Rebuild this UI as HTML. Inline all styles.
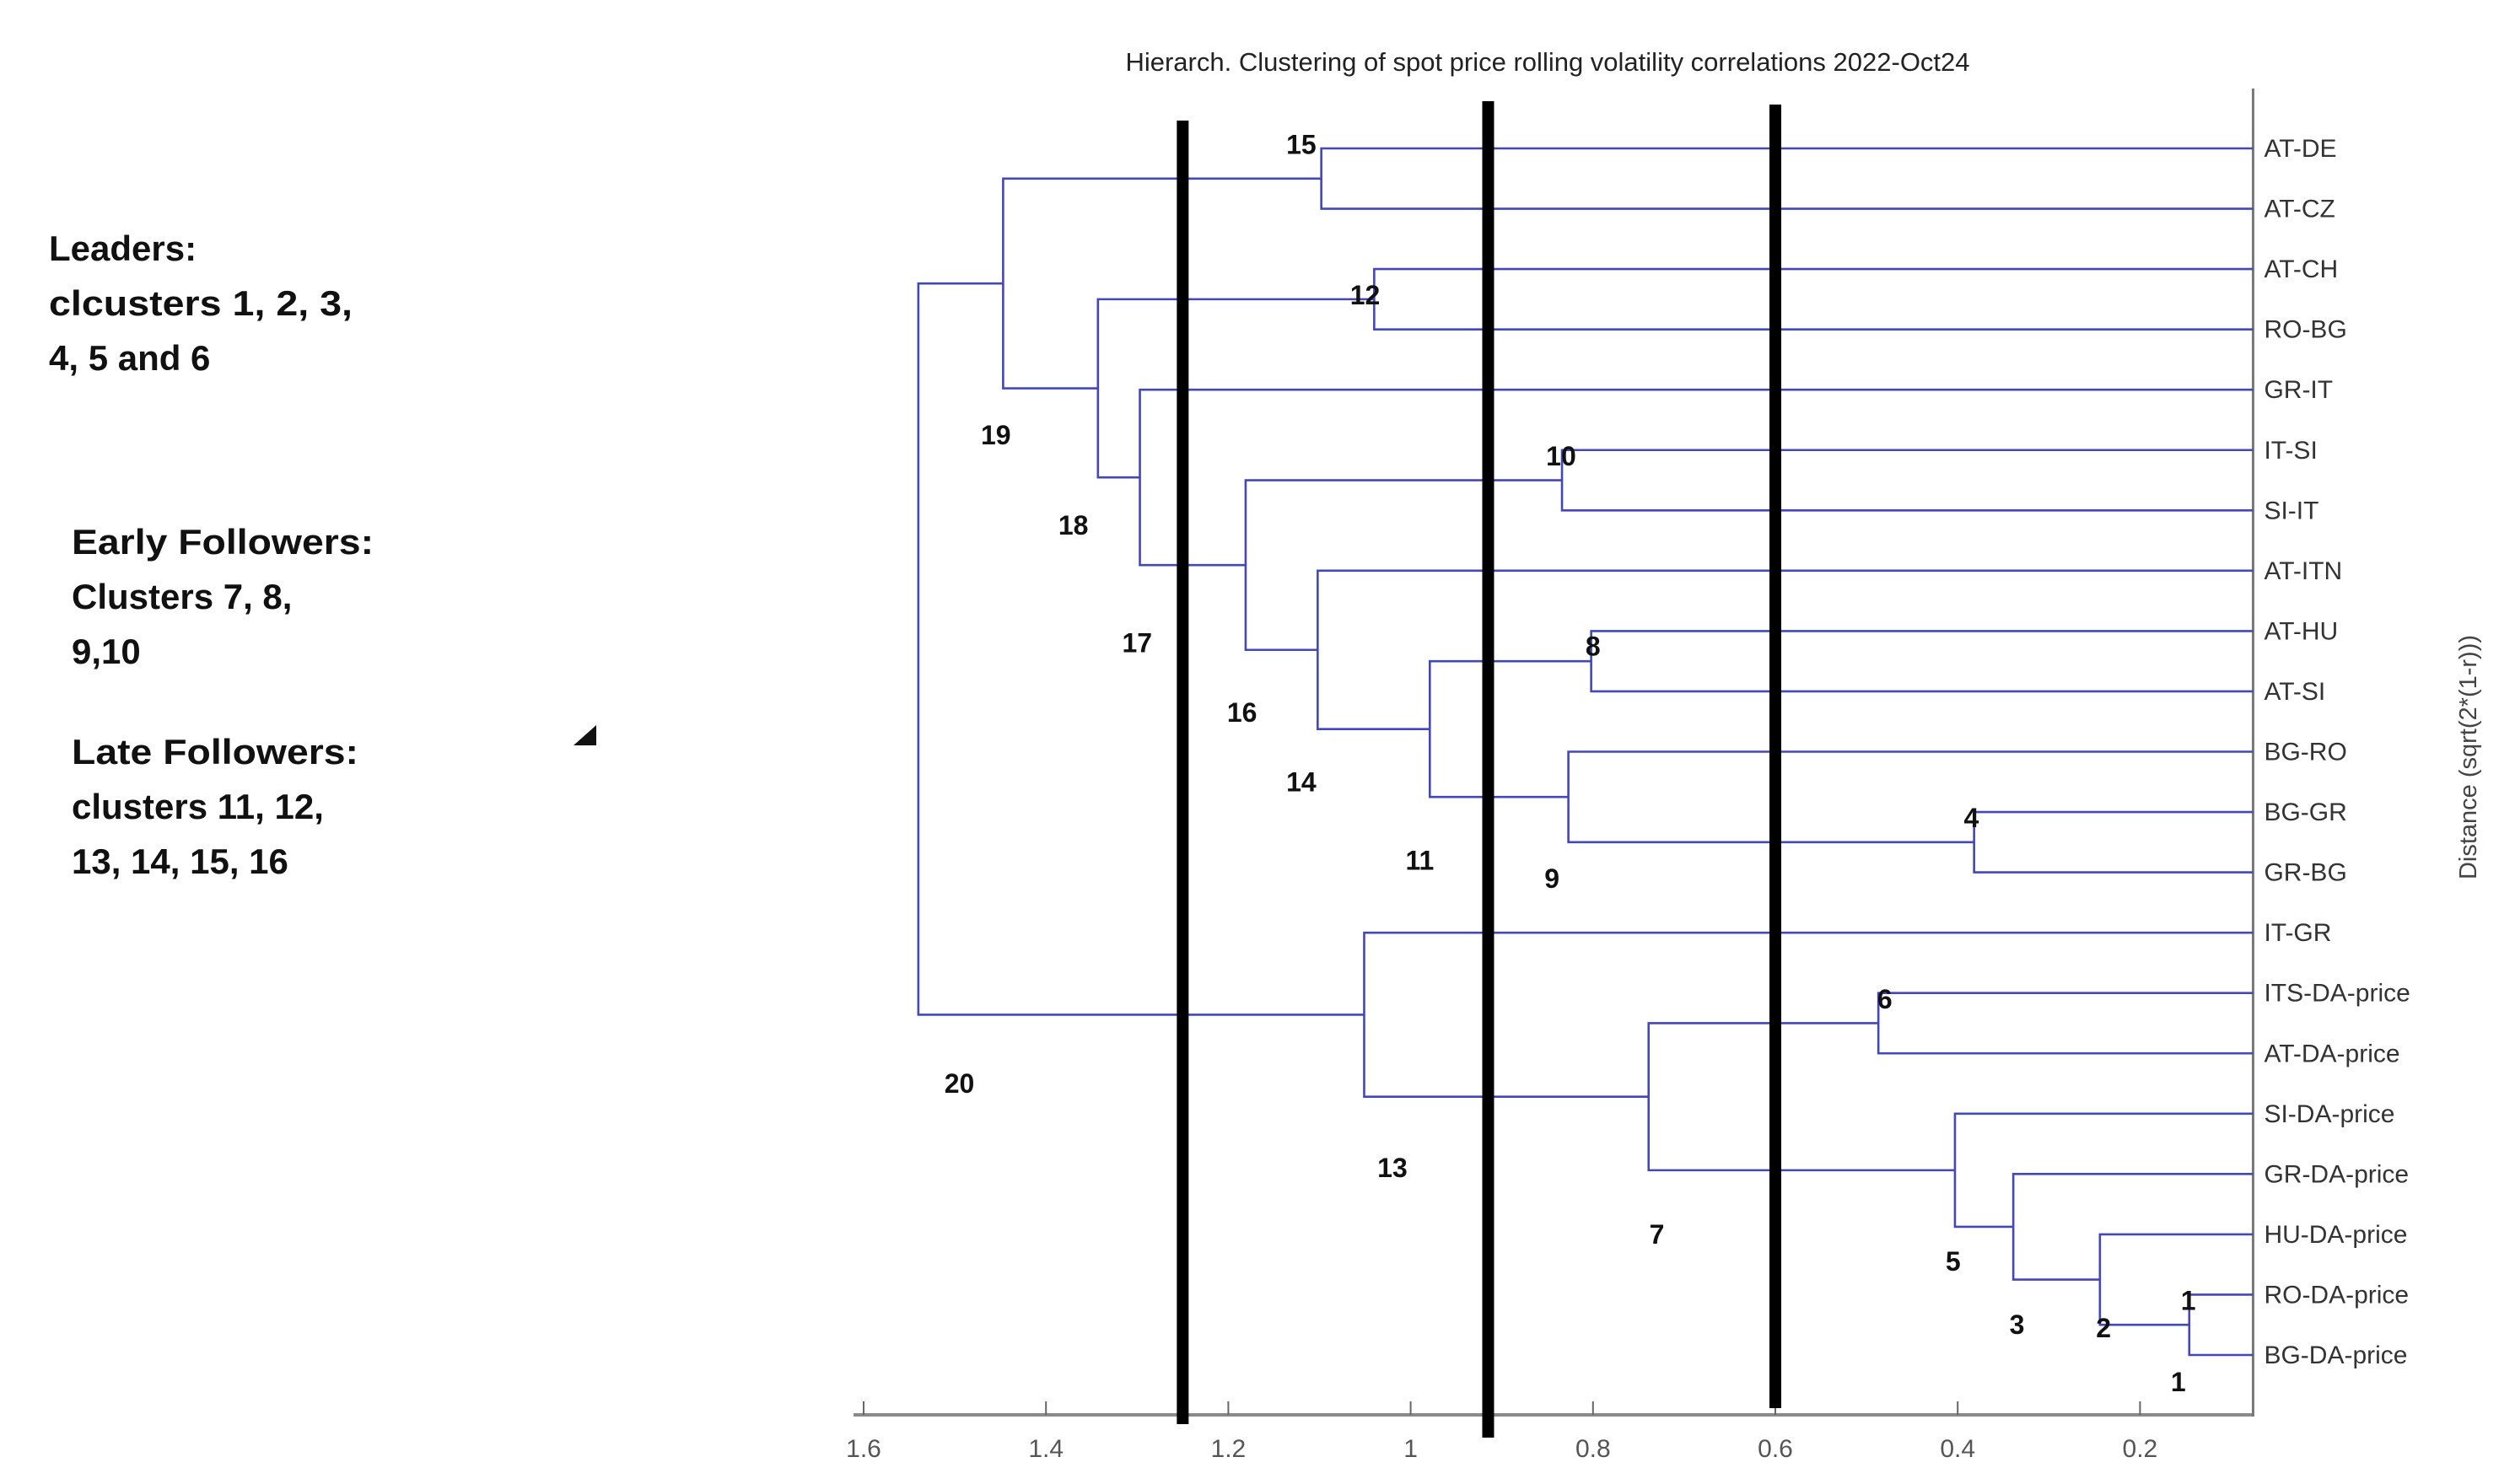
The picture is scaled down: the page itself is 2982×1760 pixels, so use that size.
<!DOCTYPE html>
<html><head><meta charset="utf-8"><style>
html,body{margin:0;padding:0;background:#fff;}
svg{display:block;}
</style></head><body>
<svg id="chart" width="2982" height="1760" viewBox="0 0 2982 1760" xmlns="http://www.w3.org/2000/svg">
<rect width="2982" height="1760" fill="#fff"/>
<text x="1835" y="84" text-anchor="middle" font-family="Liberation Sans, sans-serif" font-size="31" fill="#222">Hierarch. Clustering of spot price rolling volatility correlations 2022-Oct24</text>
<g font-family="Liberation Sans, sans-serif" font-weight="bold" font-size="42" fill="#111">
<text x="58" y="309">Leaders:</text>
<text x="58" y="374" textLength="360" lengthAdjust="spacingAndGlyphs">clcusters 1, 2, 3,</text>
<text x="58" y="439">4, 5 and 6</text>
<text x="85" y="657" textLength="358" lengthAdjust="spacingAndGlyphs">Early Followers:</text>
<text x="85" y="722">Clusters 7, 8,</text>
<text x="85" y="787">9,10</text>
<text x="85" y="906" textLength="340" lengthAdjust="spacingAndGlyphs">Late Followers:</text>
<text x="85" y="971">clusters 11, 12,</text>
<text x="85" y="1036">13, 14, 15, 16</text>
</g>
<polygon points="707,860 707,884 680,884" fill="#111"/>
<g id="axes"></g>
<g id="tree"></g>
<g id="cuts"></g>
<g id="nums"></g>
<text transform="translate(2936,898) rotate(-90)" text-anchor="middle" font-family="Liberation Sans, sans-serif" font-size="29" fill="#444">Distance (sqrt(2*(1-r)))</text>
</svg>
<script>
const leaves = ["AT-DE","AT-CZ","AT-CH","RO-BG","GR-IT","IT-SI","SI-IT","AT-ITN","AT-HU","AT-SI","BG-RO","BG-GR","GR-BG","IT-GR","ITS-DA-price","AT-DA-price","SI-DA-price","GR-DA-price","HU-DA-price","RO-DA-price","BG-DA-price"];
const mergeA = [19,18,17,16,14,25,13,11,10,8,30,7,5,33,4,2,36,0,38,39];
const mergeB = [20,21,22,23,15,24,26,12,28,9,29,31,6,32,34,3,35,1,37,27];
const mergeH = [0.146,0.244,0.339,0.403,0.487,0.739,1.051,0.382,0.827,0.802,0.979,1.102,0.834,1.181,1.297,1.040,1.343,1.098,1.447,1.540];
const ticks = [1.6,1.4,1.2,1,0.8,0.6,0.4,0.2];
const tickLabels = ["1.6","1.4","1.2","1","0.8","0.6","0.4","0.2"];
const cutValues = [1.25,0.915,0.6];
const clusterNums = ["15","12","19","10","18","8","17","16","14","4","11","9","6","20","13","7","5","3","2","1","1"];
const clusterNumX = [1.12,1.05,1.455,0.835,1.37,0.80,1.3,1.185,1.12,0.385,0.99,0.845,0.48,1.495,1.02,0.73,0.405,0.335,0.24,0.147,0.158];
const clusterNumRow = [-0.06,2.43,4.75,5.1,6.25,8.25,8.2,9.35,10.5,11.1,11.8,12.1,14.1,15.5,16.9,18,18.45,19.5,19.55,19.1,20.45];

const NS="http://www.w3.org/2000/svg";
const X0=1024, PX=1081, XMIN=0.076;
const ax = v => X0 + (1.6 - v) * PX;
const Y0=176, DY=71.55;
const ay = r => Y0 + r * DY;
const axisRight = ax(XMIN), axisBottom = 1678, axisTop = 105;
function mk(tag, parent){const e=document.createElementNS(NS,tag);parent.appendChild(e);return e;}

const axes=document.getElementById('axes');
let l=mk('line',axes);


l.setAttribute('x1',X0-12);l.setAttribute('x2',axisRight);l.setAttribute('y1',axisBottom);l.setAttribute('y2',axisBottom);
l.setAttribute('stroke','#8a8a8a');l.setAttribute('stroke-width','4');
l=mk('line',axes);


l.setAttribute('x1',axisRight);l.setAttribute('x2',axisRight);l.setAttribute('y1',axisTop);l.setAttribute('y2',axisBottom+2);
l.setAttribute('stroke','#777');l.setAttribute('stroke-width','3');
ticks.forEach((t,i)=>{
  const tk=mk('line',axes);
  
  
  tk.setAttribute('x1',ax(t));tk.setAttribute('x2',ax(t));tk.setAttribute('y1',axisBottom);tk.setAttribute('y2',axisBottom-16);
  tk.setAttribute('stroke','#666');tk.setAttribute('stroke-width','2');
  const tx=mk('text',axes);
  
  
  tx.setAttribute('x',ax(t));tx.setAttribute('y',1728);tx.setAttribute('text-anchor','middle');
  tx.setAttribute('font-family','Liberation Sans, sans-serif');tx.setAttribute('font-size','30');tx.setAttribute('fill','#555');
  tx.textContent=tickLabels[i];
});
leaves.forEach((n,i)=>{
  const tx=mk('text',axes);
  
  
  tx.setAttribute('x',axisRight+13);tx.setAttribute('y',ay(i)+10);
  tx.setAttribute('font-family','Liberation Sans, sans-serif');tx.setAttribute('font-size','30');tx.setAttribute('fill','#333');
  tx.textContent=n;
});

const tree=document.getElementById('tree');
const nodeY=[], nodeH=[];
leaves.forEach((n,i)=>{nodeY[i]=ay(i);nodeH[i]=XMIN;});
mergeA.forEach((a,k)=>{
  const b=mergeB[k], id=leaves.length+k, h=mergeH[k];
  nodeY[id]=(nodeY[a]+nodeY[b])/2; nodeH[id]=h;
  const p=mk('path',tree);
  
  
  p.setAttribute('d',`M${ax(nodeH[a])},${nodeY[a]} H${ax(h)} V${nodeY[b]} H${ax(nodeH[b])}`);
  p.setAttribute('fill','none');p.setAttribute('stroke','#4347b8');p.setAttribute('stroke-width','2.6');
});

const cuts=document.getElementById('cuts');
const cutTop=[143,120,124], cutBot=[1689,1705,1670];
cutValues.forEach((c,i)=>{
  const cl=mk('line',cuts);
  
  
  cl.setAttribute('x1',ax(c));cl.setAttribute('x2',ax(c));cl.setAttribute('y1',cutTop[i]);cl.setAttribute('y2',cutBot[i]);
  cl.setAttribute('stroke','#000');cl.setAttribute('stroke-width','14');
});

const nums=document.getElementById('nums');
clusterNums.forEach((s,i)=>{
  const tx=mk('text',nums);
  
  
  tx.setAttribute('x',ax(clusterNumX[i]));tx.setAttribute('y',ay(clusterNumRow[i])+11);
  tx.setAttribute('text-anchor','middle');
  tx.setAttribute('font-family','Liberation Sans, sans-serif');tx.setAttribute('font-weight','bold');tx.setAttribute('font-size','32');tx.setAttribute('fill','#111');
  tx.textContent=s;
});
</script>
</body></html>
